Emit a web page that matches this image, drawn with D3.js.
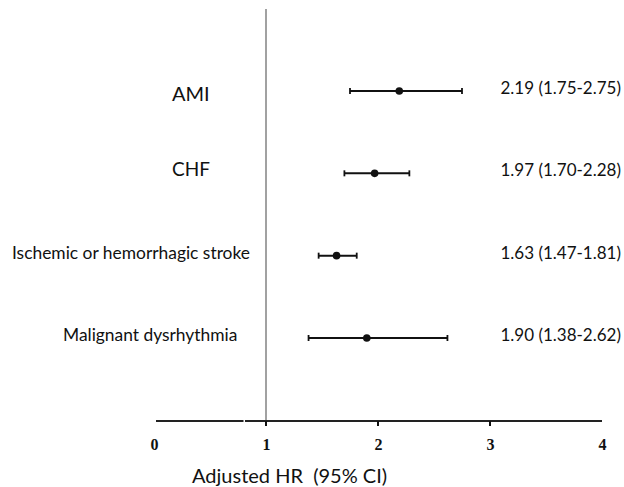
<!DOCTYPE html>
<html>
<head>
<meta charset="utf-8">
<script src="https://cdn.jsdelivr.net/npm/d3@7"></script>
<style>
  body { margin: 0; background: #fff; }
  svg { display: block; }
</style>
</head>
<body>
<div id="chart"></div>
<script>
// data
var outcomes = ["AMI", "CHF", "Ischemic or hemorrhagic stroke", "Malignant dysrhythmia"];
var hr       = [2.19, 1.97, 1.63, 1.90];
var lower    = [1.75, 1.70, 1.47, 1.38];
var upper    = [2.75, 2.28, 1.81, 2.62];
var hrLabels = ["2.19 (1.75-2.75)", "1.97 (1.70-2.28)", "1.63 (1.47-1.81)", "1.90 (1.38-2.62)"];
var xTicks   = [0, 1, 2, 3, 4];
var markTicks = [1, 2, 3];

// label placement (layout only)
var labelX    = [172, 172, 12, 63];
var labelSize = [20, 19, 17.4, 17.4];
var labelDy   = [10, 3, 3, 3];

var width = 624, height = 487;
var sans = "Lato, 'Open Sans', sans-serif";

var svg = d3.select("#chart")
            .append("svg")
            .attr("width", width)
            .attr("height", height);

var x = d3.scaleLinear().domain([0, 4]).range([154, 602]);
var y = d3.scalePoint().domain(outcomes).range([91, 338]);
var axisY = 421;

var rows = outcomes.map(function(d, i) {
    return { name: d, hr: hr[i], lo: lower[i], hi: upper[i], label: hrLabels[i], i: i };
});

// reference line at HR = 1
svg.append("line")
    .attr("x1", x(1)).attr("x2", x(1))
    .attr("y1", 9).attr("y2", axisY)
    .attr("stroke", "#8a8a8a")
    .attr("stroke-width", 1.6);

// x axis (labels only, line and ticks drawn below)
var axis = d3.axisBottom(x)
    .tickValues(xTicks)
    .tickSize(0)
    .tickPadding(18)
    .tickFormat(d3.format("d"));

var gx = svg.append("g")
    .attr("transform", "translate(0," + axisY + ")")
    .call(axis);

gx.select(".domain").remove();
gx.selectAll(".tick line").remove();

gx.append("line")
    .attr("x1", 156).attr("x2", 602)
    .attr("stroke", "#222").attr("stroke-width", 2);
// small break in the axis line
gx.append("line")
    .attr("x1", 243.5).attr("x2", 245)
    .attr("stroke", "#fff").attr("stroke-width", 3);

gx.selectAll("line.mark")
    .data(markTicks)
    .enter()
    .append("line")
    .attr("class", "mark")
    .attr("x1", function(d) { return x(d); })
    .attr("x2", function(d) { return x(d); })
    .attr("y1", 0)
    .attr("y2", 5)
    .attr("stroke", "#111")
    .attr("stroke-width", 2);

gx.selectAll(".tick text")
    .attr("font-family", "'Liberation Serif', 'Times New Roman', serif")
    .attr("font-weight", "bold")
    .attr("font-size", "16px")
    .attr("fill", "#111");

// axis title
svg.append("text")
    .attr("x", 192)
    .attr("y", 483)
    .attr("font-family", sans)
    .attr("font-size", "20px")
    .attr("fill", "#111")
    .attr("xml:space", "preserve")
    .text("Adjusted HR  (95% CI)");

// confidence intervals
var g = svg.append("g");

g.selectAll("line.ci")
    .data(rows)
    .enter()
    .append("line")
    .attr("class", "ci")
    .attr("x1", function(d) { return x(d.lo); })
    .attr("x2", function(d) { return x(d.hi); })
    .attr("y1", function(d) { return y(d.name); })
    .attr("y2", function(d) { return y(d.name); })
    .attr("stroke", "#111")
    .attr("stroke-width", 2);

// end caps
["lo", "hi"].forEach(function(k) {
    g.selectAll("line.cap-" + k)
        .data(rows)
        .enter()
        .append("line")
        .attr("class", "cap-" + k)
        .attr("x1", function(d) { return x(d[k]); })
        .attr("x2", function(d) { return x(d[k]); })
        .attr("y1", function(d) { return y(d.name) - 3; })
        .attr("y2", function(d) { return y(d.name) + 3; })
        .attr("stroke", "#111")
        .attr("stroke-width", 1.8);
});

// point estimates
g.selectAll("circle")
    .data(rows)
    .enter()
    .append("circle")
    .attr("cx", function(d) { return x(d.hr); })
    .attr("cy", function(d) { return y(d.name); })
    .attr("r", 3.8)
    .attr("fill", "#111");

// outcome names
svg.selectAll("text.name")
    .data(rows)
    .enter()
    .append("text")
    .attr("class", "name")
    .attr("x", function(d) { return labelX[d.i]; })
    .attr("y", function(d) { return y(d.name) + labelDy[d.i]; })
    .attr("font-family", sans)
    .attr("font-size", function(d) { return labelSize[d.i] + "px"; })
    .attr("fill", "#111")
    .text(function(d) { return d.name; });

// HR (95% CI) text
svg.selectAll("text.hr")
    .data(rows)
    .enter()
    .append("text")
    .attr("class", "hr")
    .attr("x", 621)
    .attr("y", function(d) { return y(d.name) + 3; })
    .attr("text-anchor", "end")
    .attr("font-family", sans)
    .attr("font-size", "17px")
    .attr("fill", "#111")
    .text(function(d) { return d.label; });
</script>
</body>
</html>
